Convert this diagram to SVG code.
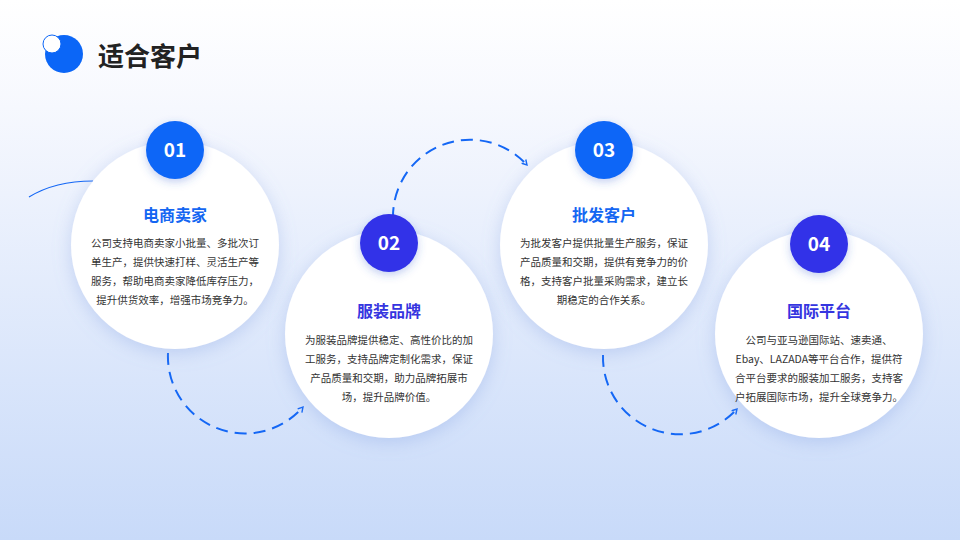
<svg xmlns="http://www.w3.org/2000/svg" width="960" height="540" viewBox="0 0 960 540">
<defs>
<linearGradient id="bg" x1="0" y1="0" x2="0" y2="1">
<stop offset="0" stop-color="#ffffff"/>
<stop offset="0.2" stop-color="#f6f8fe"/>
<stop offset="1" stop-color="#c8daf9"/>
</linearGradient>
<filter id="sh" x="-30%" y="-30%" width="160%" height="160%">
<feDropShadow dx="0" dy="4" stdDeviation="9" flood-color="#7f9ee0" flood-opacity="0.35"/>
</filter>
<filter id="bsh" x="-40%" y="-40%" width="180%" height="180%">
<feDropShadow dx="0" dy="3" stdDeviation="4" flood-color="#3b5fd0" flood-opacity="0.3"/>
</filter>
<marker id="arr" viewBox="0 0 10 10" refX="8" refY="5" markerWidth="7" markerHeight="7" orient="auto" markerUnits="userSpaceOnUse">
<path d="M1,1 L8,5 L1,9" fill="none" stroke="#1467f5" stroke-width="2"/>
</marker>
<style>
.card{fill:#ffffff;filter:url(#sh);}
.blue{fill:#0b66f7;}
.indigo{fill:#3131e8;}
.num{font-family:"Noto Sans CJK SC","Noto Sans",sans-serif;font-weight:700;font-size:19px;fill:#ffffff;text-anchor:middle;}
.ttl{font-family:"Noto Sans CJK SC",sans-serif;font-weight:700;font-size:16px;text-anchor:middle;}
.tb{fill:#1466f2;}
.ti{fill:#3535e0;}
.body{font-family:"Noto Sans CJK SC",sans-serif;font-size:10.5px;fill:#333333;text-anchor:middle;}
.dash{fill:none;stroke:#1467f5;stroke-width:2;stroke-dasharray:12 7;marker-end:url(#arr);}
</style>
</defs>
<rect x="0" y="0" width="960" height="540" fill="url(#bg)"/>

<g id="header">
<circle cx="64" cy="54" r="19" fill="#0b66f7"/>
<circle cx="52" cy="44" r="9" fill="#ffffff" stroke="#0b66f7" stroke-width="1"/>
<text x="98" y="66" font-family="Noto Sans CJK SC, sans-serif" font-weight="700" font-size="26" fill="#222222">适合客户</text>
</g>

<g id="connectors">
<path d="M29,197 Q55,181 93,181" fill="none" stroke="#1467f5" stroke-width="1.2"/>
<path class="dash" d="M168,353 A77,77 0 0 0 303,407"/>
<path class="dash" d="M393,219 A77,77 0 0 1 527,165"/>
<path class="dash" d="M603,355 A77,77 0 0 0 737,409"/>
</g>

<g id="node1">
<circle class="card" cx="175" cy="245" r="104"/>
<circle class="blue" cx="175" cy="150" r="29" filter="url(#bsh)"/>
<text class="num" x="175" y="157">01</text>
<text class="ttl tb" x="175" y="221">电商卖家</text>
<text class="body" x="175" y="247">公司支持电商卖家小批量、多批次订</text>
<text class="body" x="175" y="266">单生产，提供快速打样、灵活生产等</text>
<text class="body" x="175" y="285">服务，帮助电商卖家降低库存压力，</text>
<text class="body" x="175" y="304">提升供货效率，增强市场竞争力。</text>
</g>

<g id="node2">
<circle class="card" cx="389" cy="334" r="104"/>
<circle class="indigo" cx="389" cy="243" r="29" filter="url(#bsh)"/>
<text class="num" x="389" y="250">02</text>
<text class="ttl ti" x="389" y="317">服装品牌</text>
<text class="body" x="389" y="344">为服装品牌提供稳定、高性价比的加</text>
<text class="body" x="389" y="363">工服务，支持品牌定制化需求，保证</text>
<text class="body" x="389" y="382">产品质量和交期，助力品牌拓展市</text>
<text class="body" x="389" y="401">场，提升品牌价值。</text>
</g>

<g id="node3">
<circle class="card" cx="604" cy="245" r="104"/>
<circle class="blue" cx="604" cy="150" r="29" filter="url(#bsh)"/>
<text class="num" x="604" y="157">03</text>
<text class="ttl tb" x="604" y="221">批发客户</text>
<text class="body" x="604" y="247">为批发客户提供批量生产服务，保证</text>
<text class="body" x="604" y="266">产品质量和交期，提供有竞争力的价</text>
<text class="body" x="604" y="285">格，支持客户批量采购需求，建立长</text>
<text class="body" x="604" y="304">期稳定的合作关系。</text>
</g>

<g id="node4">
<circle class="card" cx="819" cy="334" r="104"/>
<circle class="indigo" cx="819" cy="244" r="29" filter="url(#bsh)"/>
<text class="num" x="819" y="251">04</text>
<text class="ttl ti" x="819" y="317">国际平台</text>
<text class="body" x="819" y="344">公司与亚马逊国际站、速卖通、</text>
<text class="body" x="819" y="363">Ebay、LAZADA等平台合作，提供符</text>
<text class="body" x="819" y="382">合平台要求的服装加工服务，支持客</text>
<text class="body" x="819" y="401">户拓展国际市场，提升全球竞争力。</text>
</g>
</svg>
